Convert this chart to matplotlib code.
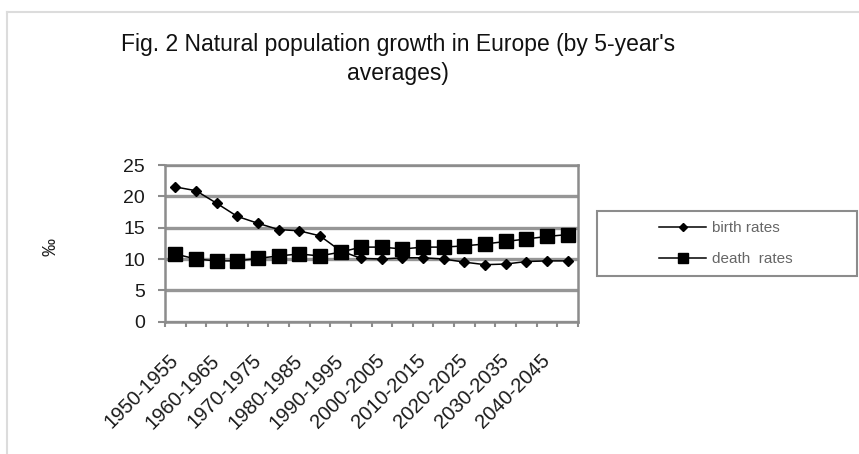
import matplotlib
matplotlib.use("Agg")
import matplotlib.pyplot as plt
from matplotlib.lines import Line2D
from matplotlib.patches import Rectangle

plt.rcParams["font.family"] = ["Liberation Sans", "DejaVu Sans"]

periods = [f"{y}-{y + 5}" for y in range(1950, 2050, 5)]
birth_rates = [21.5, 20.9, 18.9, 16.8, 15.7, 14.7, 14.5, 13.7, 11.3, 10.1,
               10.0, 10.2, 10.2, 10.0, 9.5, 9.1, 9.2, 9.6, 9.7, 9.7]
death_rates = [10.8, 10.0, 9.7, 9.7, 10.1, 10.5, 10.8, 10.5, 11.1, 11.9,
               11.9, 11.6, 11.9, 11.9, 12.1, 12.4, 12.8, 13.2, 13.6, 13.9]
y_ticks = [0, 5, 10, 15, 20, 25]

W, H = 859, 454
fig = plt.figure(figsize=(W / 100, H / 100), dpi=100)

# plot area in pixel coordinates of the reference
left, right, top, bottom = 165, 578, 165, 321.7
ax = fig.add_axes([left / W, 1 - bottom / H, (right - left) / W, (bottom - top) / H])

x = list(range(len(periods)))
ax.plot(x, birth_rates, color="black", lw=1.1, marker="D", ms=5.5,
        label="birth rates", zorder=3)
ax.plot(x, death_rates, color="black", lw=1.1, marker="s", ms=9.5,
        label="death  rates", zorder=3)

ax.set_xlim(-0.5, len(periods) - 0.5)
ax.set_ylim(0, 25)
ax.set_yticks(y_ticks)
ax.yaxis.grid(True, color="#969696", lw=2.4)
ax.set_axisbelow(True)

grey = "#8c8c8c"
for s in ax.spines.values():
    s.set_color(grey)
    s.set_linewidth(1.8)

ax.tick_params(axis="y", length=5, width=1.5, color=grey, pad=9.5,
               labelsize=14, labelcolor="#1a1a1a")

# category labels every other period, tick marks at category borders
ax.set_xticks(x[::2])
ax.set_xticklabels(periods[::2], rotation=45, ha="right", va="center",
                   rotation_mode="anchor", fontsize=14.5, color="#1a1a1a")
ax.tick_params(axis="x", which="major", length=0, pad=26)
ax.set_xticks([i - 0.5 for i in range(len(periods) + 1)], minor=True)
ax.tick_params(axis="x", which="minor", length=3.5, width=1.5, color=grey)

fig.text(51 / W, 1 - 247 / H, "‰", rotation=90, ha="center", va="center",
         fontsize=13, color="#1a1a1a")

fig.text(398 / W, 1 - 59 / H,
         "Fig. 2 Natural population growth in Europe (by 5-year's\naverages)",
         ha="center", va="center", fontsize=16.5, linespacing=1.3, color="#111111")

# legend box drawn separately so its frame matches the reference size
lx0, ly0, lx1, ly1 = 597, 211, 857, 276
fig.add_artist(Rectangle((lx0 / W, 1 - ly1 / H), (lx1 - lx0) / W, (ly1 - ly0) / H,
                         transform=fig.transFigure, fill=False,
                         edgecolor="#8c8c8c", lw=1.5))
fig.legend(loc="center", bbox_to_anchor=(726 / W, 1 - 243.5 / H),
           frameon=False, fontsize=11, handlelength=3.1, handletextpad=0.4,
           labelspacing=1.1, labelcolor="#666666", markerscale=0.72)

# faint outer chart frame
fig.add_artist(Line2D([7 / W, 1], [1 - 12 / H, 1 - 12 / H], transform=fig.transFigure,
                      color="#dcdcdc", lw=1.5))
fig.add_artist(Line2D([7 / W, 7 / W], [0, 1 - 12 / H], transform=fig.transFigure,
                      color="#dcdcdc", lw=1.5))

fig.savefig("out.png", dpi=100)
